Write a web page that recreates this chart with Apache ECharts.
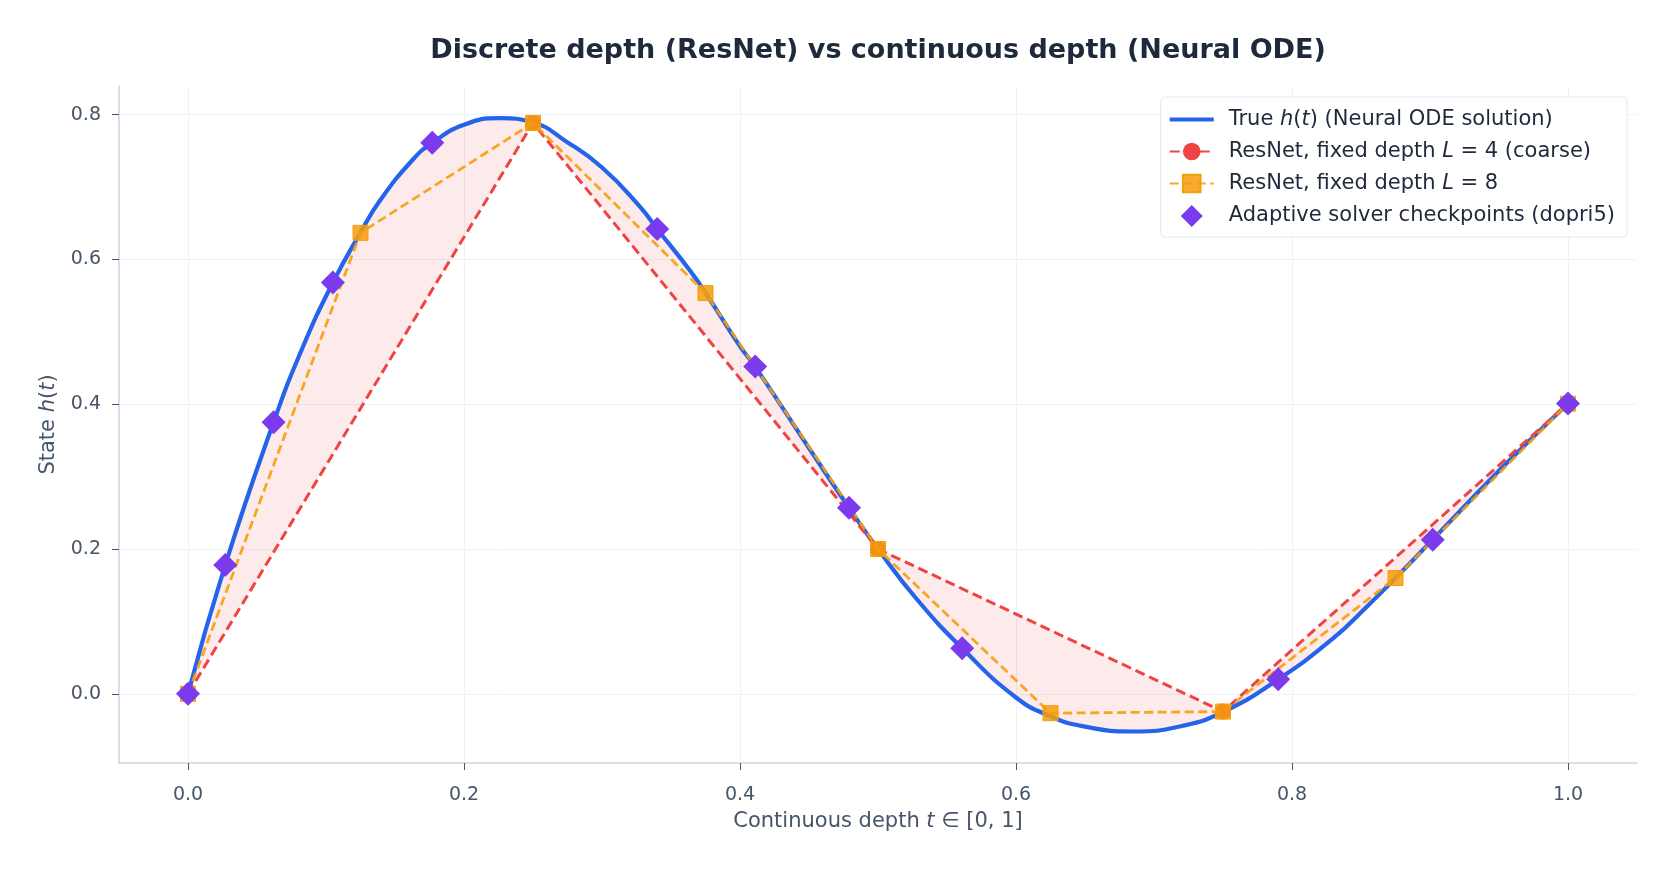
<!DOCTYPE html>
<html>
<head>
<meta charset="utf-8">
<script src="https://cdn.jsdelivr.net/npm/echarts@6/dist/echarts.min.js"></script>
<style>
  html, body { margin: 0; padding: 0; background: #fff; }
  #main { width: 1675px; height: 872px; }
</style>
</head>
<body>
<div id="main"></div>
<script>
// true h(t)
var trueT = [0, 0.027, 0.062, 0.083, 0.105, 0.125, 0.139, 0.163, 0.177, 0.2, 0.226, 0.25, 0.274, 0.3, 0.327, 0.34,
    0.364, 0.375, 0.4, 0.411, 0.455, 0.479, 0.5, 0.528, 0.561, 0.6, 0.625, 0.649, 0.685, 0.721, 0.75, 0.79, 0.83,
    0.854, 0.875, 0.902, 0.95, 1.0];
var trueH = [0, 0.178, 0.375, 0.478, 0.568, 0.637, 0.681, 0.738, 0.761, 0.786, 0.795, 0.789, 0.763, 0.727, 0.674, 0.642,
    0.584, 0.554, 0.48, 0.452, 0.325, 0.257, 0.2, 0.131, 0.063, -0.005, -0.031, -0.045, -0.052, -0.044, -0.025, 0.02, 0.077,
    0.12, 0.16, 0.213, 0.308, 0.401];

// ResNet L = 4
var l4T = [0, 0.25, 0.5, 0.75, 1.0];
var l4H = [0, 0.7885, 0.2, -0.0245, 0.4008];

// ResNet L = 8
var l8T = [0, 0.125, 0.25, 0.375, 0.5, 0.625, 0.75, 0.875, 1.0];
var l8H = [0, 0.6367, 0.7885, 0.5535, 0.2, -0.0267, -0.0245, 0.16, 0.4008];

// dopri5 checkpoints
var ckT = [0, 0.027, 0.062, 0.105, 0.177, 0.34, 0.411, 0.479, 0.561, 0.79, 0.902, 1.0];
var ckH = [0, 0.178, 0.375, 0.568, 0.761, 0.642, 0.452, 0.257, 0.063, 0.02, 0.213, 0.401];

var xTicks = [0, 0.2, 0.4, 0.6, 0.8, 1.0];
var yTicks = [0, 0.2, 0.4, 0.6, 0.8];

var FONT = 'DejaVu Sans';
var TXT = '#1e293b';
var AX = '#475569';

function pairs(xs, ys) {
    return xs.map(function (x, i) { return [x, ys[i]]; });
}

// linear interp of the L=4 line at t
function interpL4(t) {
    for (var i = 0; i < l4T.length - 1; i++) {
        if (t <= l4T[i + 1]) {
            var f = (t - l4T[i]) / (l4T[i + 1] - l4T[i]);
            return l4H[i] + f * (l4H[i + 1] - l4H[i]);
        }
    }
    return l4H[l4H.length - 1];
}

var names = {
    truth: 'True h(t) (Neural ODE solution)',
    l4: 'ResNet, fixed depth L = 4 (coarse)',
    l8: 'ResNet, fixed depth L = 8',
    ck: 'Adaptive solver checkpoints (dopri5)'
};
var legendRich = {};
legendRich[names.truth] = 'True {i|h}({i|t}) (Neural ODE solution)';
legendRich[names.l4] = 'ResNet, fixed depth {i|L} = 4 (coarse)';
legendRich[names.l8] = 'ResNet, fixed depth {i|L} = 8';
legendRich[names.ck] = 'Adaptive solver checkpoints (dopri5)';

var chart = echarts.init(document.getElementById('main'));

var option = {
    backgroundColor: '#fff',
    animation: false,
    title: {
        text: 'Discrete depth (ResNet) vs continuous depth (Neural ODE)',
        left: 878,
        textAlign: 'center',
        top: 37,
        padding: 0,
        textStyle: { fontFamily: FONT, fontSize: 27, fontWeight: 'bold', color: TXT }
    },
    grid: { left: 119, right: 38, top: 86, bottom: 109 },
    legend: {
        data: [
            { name: names.truth, icon: 'path://M0,0h44v4h-44z' },
            { name: names.l4 },
            { name: names.l8 },
            { name: names.ck, icon: 'path://M0,-1L1,0L0,1L-1,0Z' }
        ],
        orient: 'vertical',
        right: 48,
        top: 97,
        padding: [12, 12, 10, 8],
        itemWidth: 44,
        itemHeight: 22,
        itemGap: 11,
        symbolKeepAspect: true,
        backgroundColor: '#fff',
        borderColor: '#e2e8f0',
        borderWidth: 1,
        borderRadius: 4,
        formatter: function (name) { return legendRich[name]; },
        textStyle: {
            fontFamily: FONT, fontSize: 21, color: TXT, padding: [0, 0, 0, 10],
            rich: { i: { fontFamily: FONT, fontSize: 21, color: TXT, fontStyle: 'italic' } }
        }
    },
    xAxis: {
        type: 'value',
        min: -0.05,
        max: 1.05,
        name: 'Continuous depth {i|t} ∈ [0, 1]',
        nameLocation: 'middle',
        nameGap: 48,
        nameTextStyle: {
            fontFamily: FONT, fontSize: 21, color: AX,
            rich: { i: { fontFamily: FONT, fontSize: 21, color: AX, fontStyle: 'italic' } }
        },
        axisLine: { onZero: false, lineStyle: { color: '#cbd5e1', width: 1.5 } },
        axisTick: { customValues: xTicks, length: 7, lineStyle: { color: AX } },
        axisLabel: {
            customValues: xTicks, margin: 23, fontFamily: FONT, fontSize: 19, color: AX,
            formatter: function (v) { return v.toFixed(1); }
        },
        splitLine: { show: true, lineStyle: { color: '#eef2f6', width: 1 } }
    },
    yAxis: {
        type: 'value',
        min: -0.0955,
        max: 0.8395,
        name: 'State {i|h}({i|t})',
        nameLocation: 'middle',
        nameGap: 60,
        nameTextStyle: {
            fontFamily: FONT, fontSize: 21, color: AX,
            rich: { i: { fontFamily: FONT, fontSize: 21, color: AX, fontStyle: 'italic' } }
        },
        axisLine: { show: true, onZero: false, lineStyle: { color: '#cbd5e1', width: 1.5 } },
        axisTick: { show: true, customValues: yTicks, length: 7, lineStyle: { color: AX } },
        axisLabel: {
            customValues: yTicks, margin: 18, fontFamily: FONT, fontSize: 19, color: AX,
            formatter: function (v) { return v.toFixed(1); }
        },
        splitLine: { show: true, lineStyle: { color: '#eef2f6', width: 1 } }
    },
    series: [
        {
            // shaded gap between truth and L=4
            name: 'gap',
            type: 'custom',
            silent: true,
            z: 1,
            data: [[0, 0]],
            renderItem: function (params, api) {
                var pts = [];
                trueT.forEach(function (t, i) { pts.push(api.coord([t, trueH[i]])); });
                for (var i = trueT.length - 1; i >= 0; i--) {
                    pts.push(api.coord([trueT[i], interpL4(trueT[i])]));
                }
                return {
                    type: 'polygon',
                    shape: { points: pts },
                    style: { fill: 'rgba(239,68,68,0.11)', stroke: 'none' }
                };
            }
        },
        {
            name: names.truth,
            type: 'line',
            z: 2,
            data: pairs(trueT, trueH),
            smooth: 0.5,
            symbol: 'none',
            lineStyle: { color: '#2563eb', width: 4.2 },
            itemStyle: { color: '#2563eb' }
        },
        {
            name: names.l4,
            type: 'line',
            z: 3,
            data: pairs(l4T, l4H),
            symbol: 'circle',
            symbolSize: 16,
            lineStyle: { color: '#ef4444', width: 3, type: [10, 5] },
            itemStyle: { color: '#ef4444' }
        },
        {
            name: names.l8,
            type: 'line',
            z: 4,
            data: pairs(l8T, l8H),
            symbol: 'rect',
            symbolSize: 15,
            lineStyle: { color: '#f59e0b', width: 2.8, type: [9, 4.5], opacity: 0.9 },
            itemStyle: { color: 'rgba(245,158,11,0.85)', borderColor: '#f59e0b', borderWidth: 1 }
        },
        {
            name: names.ck,
            type: 'scatter',
            z: 5,
            data: pairs(ckT, ckH),
            symbol: 'diamond',
            symbolSize: 24,
            itemStyle: { color: '#7c3aed', opacity: 1 }
        }
    ]
};

chart.setOption(option);
</script>
</body>
</html>
